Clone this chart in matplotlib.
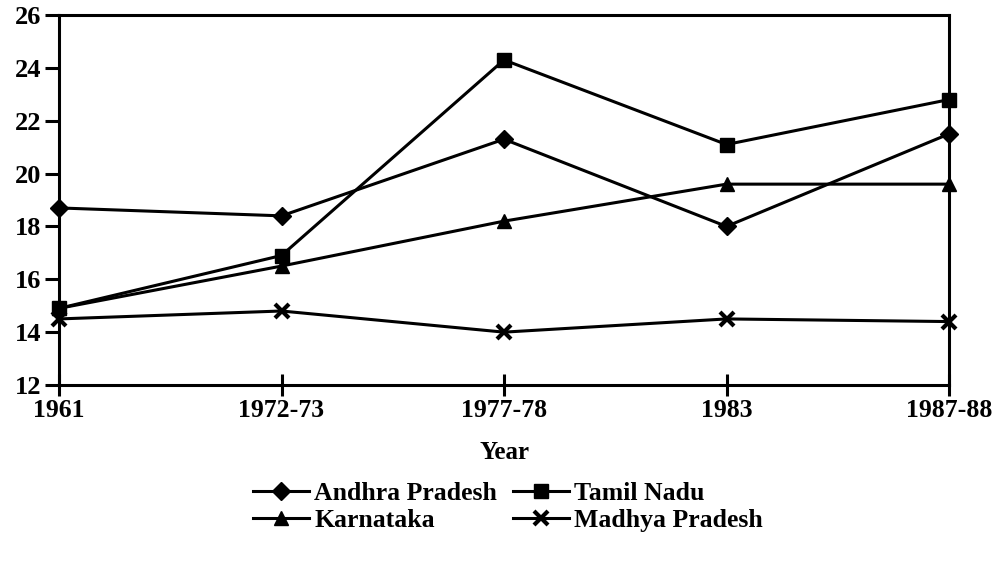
import matplotlib
matplotlib.use("Agg")
import matplotlib.pyplot as plt

years = ["1961", "1972-73", "1977-78", "1983", "1987-88"]
andhra = [18.7, 18.4, 21.3, 18.0, 21.5]
tamil = [14.9, 16.9, 24.3, 21.1, 22.8]
karnataka = [14.9, 16.5, 18.2, 19.6, 19.6]
madhya = [14.5, 14.8, 14.0, 14.5, 14.4]
yticks = [12, 14, 16, 18, 20, 22, 24, 26]

plt.rcParams['font.family'] = ['Liberation Serif', 'DejaVu Serif']
plt.rcParams['font.weight'] = 'bold'

fig = plt.figure(figsize=(10.05, 5.82), dpi=100)
ax = fig.add_axes([59/1005, 1 - 385/582, (949-59)/1005, (385-15)/582])

x = list(range(len(years)))
lw = 2.2
l1, = ax.plot(x, andhra, color='black', lw=lw, marker='D', ms=9, clip_on=False, zorder=3)
l2, = ax.plot(x, tamil, color='black', lw=lw, marker='s', ms=9.5, clip_on=False, zorder=3)
l3, = ax.plot(x, karnataka, color='black', lw=lw, marker='^', ms=10, clip_on=False, zorder=3)
l4, = ax.plot(x, madhya, color='black', lw=lw, marker='x', ms=10, mew=3, clip_on=False, zorder=3)

ax.set_xlim(0, len(years) - 1)
ax.set_ylim(12, 26)
ax.set_yticks(yticks)
ax.set_yticklabels([str(v) for v in yticks])
ax.set_xticks(x)
ax.set_xticklabels(years)
for s in ax.spines.values():
    s.set_linewidth(2.2)
ax.tick_params(axis='y', direction='out', length=10, width=2.2, labelsize=19, pad=3)
ax.tick_params(axis='x', direction='inout', length=16, width=2.2, labelsize=18.5, pad=2)

ax.set_xlabel('Year', fontsize=18, fontweight='bold', labelpad=14)

handles = [l1, l3, l2, l4]
labels = ['Andhra Pradesh', 'Karnataka', 'Tamil Nadu', 'Madhya Pradesh']
fig.legend(handles, labels, ncol=2, loc='center', bbox_to_anchor=(508/1005, 1 - 507/582),
           frameon=False, fontsize=18.5, handlelength=2.2, handletextpad=0.2,
           columnspacing=0.6, labelspacing=0.12, borderpad=0)

fig.savefig('out.png', dpi=100)
